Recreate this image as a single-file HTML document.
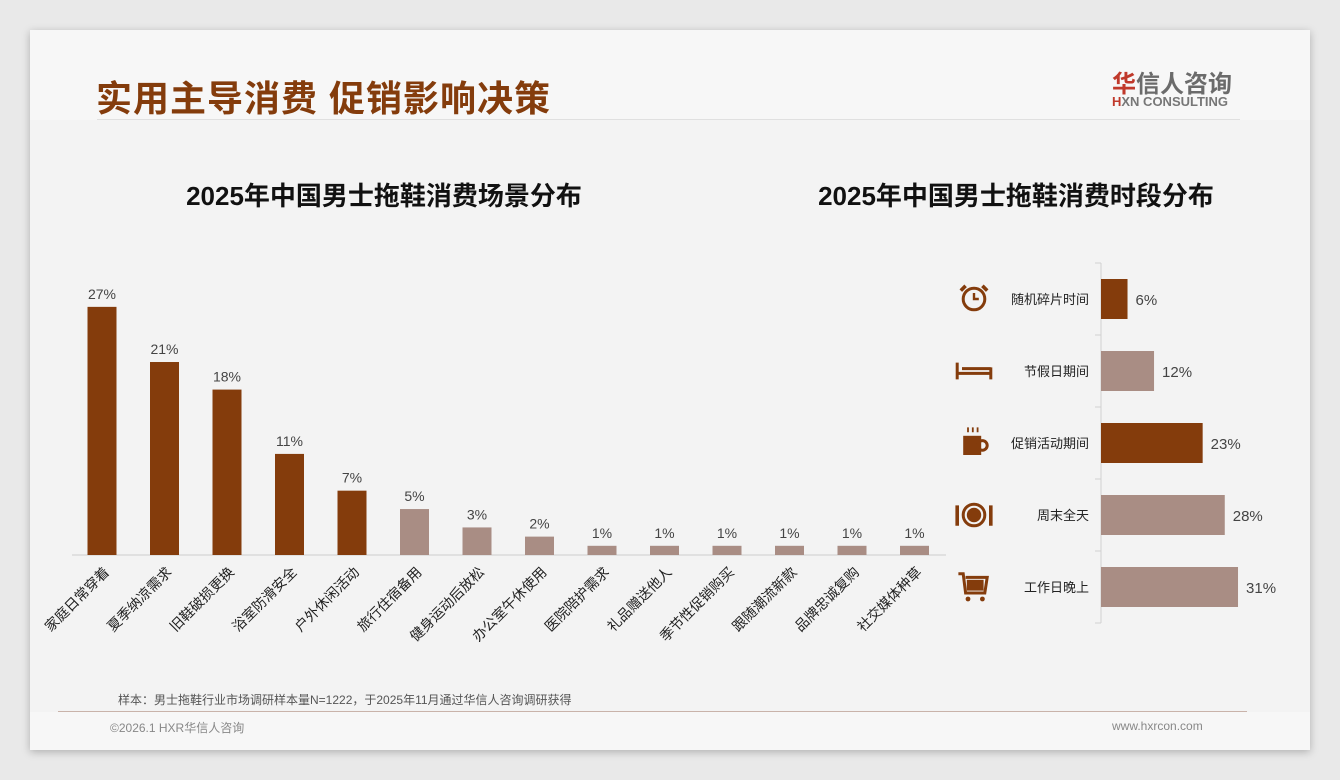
<!DOCTYPE html>
<html><head><meta charset="utf-8"><style>
body{margin:0;width:1340px;height:780px;background:#e9e9e9;font-family:"Liberation Sans","Noto Sans CJK SC",sans-serif;overflow:hidden}
#card{position:absolute;left:30px;top:30px;width:1280px;height:720px;background:#f7f7f7;box-shadow:0 2px 8px rgba(0,0,0,.25)}
#content{position:absolute;left:0;top:90px;width:1280px;height:592px;background:#f3f3f3}
.abs{position:absolute}
</style></head><body>
<div id="card">
<div id="content"></div>
<div class="abs" style="left:66px;top:40px;font-size:36px;font-weight:bold;color:#843c0c;letter-spacing:1px">实用主导消费 促销影响决策</div>
<div class="abs" style="left:67px;top:89px;width:1143px;height:1px;background:#e0e0e0"></div>
<div class="abs" style="left:1082px;top:34px;font-size:24px;font-weight:bold;color:#6b6b6b"><span style="color:#c0392b">华</span>信人咨询</div>
<div class="abs" style="left:1082px;top:64px;font-size:13px;font-weight:bold;color:#777"><span style="color:#c0392b">H</span>XN CONSULTING</div>
<div class="abs" style="left:104px;top:146px;width:500px;text-align:center;font-size:26px;font-weight:bold;color:#111">2025年中国男士拖鞋消费场景分布</div>
<div class="abs" style="left:736px;top:146px;width:500px;text-align:center;font-size:26px;font-weight:bold;color:#111">2025年中国男士拖鞋消费时段分布</div>
<div class="abs" style="left:88px;top:661px;font-size:12px;color:#555">样本：男士拖鞋行业市场调研样本量N=1222，于2025年11月通过华信人咨询调研获得</div>
<div class="abs" style="left:28px;top:681px;width:1189px;height:1px;background:#c9b3aa"></div>
<div class="abs" style="left:80px;top:689px;font-size:12px;color:#888">©2026.1 HXR华信人咨询</div>
<div class="abs" style="left:1082px;top:689px;font-size:12px;color:#888">www.hxrcon.com</div>
</div>
<svg class="abs" style="left:0;top:0" width="1340" height="780" font-family="Liberation Sans, Noto Sans CJK SC, sans-serif">
<g id="left"></g><g id="right"></g>
</svg>
<script>
const sceneCats=["家庭日常穿着","夏季纳凉需求","旧鞋破损更换","浴室防滑安全","户外休闲活动","旅行住宿备用","健身运动后放松","办公室午休使用","医院陪护需求","礼品赠送他人","季节性促销购买","跟随潮流新款","品牌忠诚复购","社交媒体种草"];
const sceneVals=[27,21,18,11,7,5,3,2,1,1,1,1,1,1];
const sceneLabels=["27%","21%","18%","11%","7%","5%","3%","2%","1%","1%","1%","1%","1%","1%"];
const timeCats=["随机碎片时间","节假日期间","促销活动期间","周末全天","工作日晚上"];
const timeVals=[6,12,23,28,31];
const timeLabels=["6%","12%","23%","28%","31%"];
const timeDark=[true,false,true,false,false];
const DARK="#843c0c",LIGHT="#a98d84",NS="http://www.w3.org/2000/svg";
function mk(p,t,a,txt){const e=document.createElementNS(NS,t);for(const k in a)e.setAttribute(k,a[k]);if(txt!=null)e.textContent=txt;p.appendChild(e);return e;}
const L=document.getElementById('left');
const base=555,yS=v=>base-v*9.19,xC=i=>102+i*62.5;
let ax=mk(L,'line',{x1:72,x2:946,y1:base,y2:base,stroke:'#ccc'});


sceneVals.forEach((v,i)=>{
 const r=mk(L,'rect',{x:xC(i)-14.5,y:yS(v),width:29,height:base-yS(v),fill:i<5?DARK:LIGHT});
 
 
 const t=mk(L,'text',{x:xC(i),y:yS(v)-8,'text-anchor':'middle','font-size':14,fill:'#444'},sceneLabels[i]);
 
 
 const c=mk(L,'text',{x:xC(i)+8,y:573,'text-anchor':'end','font-size':14,fill:'#222',transform:`rotate(-45 ${xC(i)+8} 573)`},sceneCats[i]);
 
 
});
const R=document.getElementById('right');
const ax0=1101,xs=v=>v*4.42,yc=i=>299+i*72;
let ay=mk(R,'line',{x1:ax0,x2:ax0,y1:263,y2:623,stroke:'#d0d0d0'});


for(let k=0;k<=5;k++)mk(R,'line',{x1:ax0-6,x2:ax0,y1:263+k*72,y2:263+k*72,stroke:'#d0d0d0'});
timeVals.forEach((v,i)=>{
 const r=mk(R,'rect',{x:ax0,y:yc(i)-20,width:xs(v),height:40,fill:timeDark[i]?DARK:LIGHT});
 
 
 const t=mk(R,'text',{x:ax0+xs(v)+8,y:yc(i)+6,'font-size':15,fill:'#444'},timeLabels[i]);
 
 
 const c=mk(R,'text',{x:1089,y:yc(i)+5,'text-anchor':'end','font-size':13,fill:'#222'},timeCats[i]);
 
 
 const ic=mk(R,'g',{transform:`translate(974 ${yc(i)}) scale(1.2)`});
 
 
 if(i==0){mk(ic,'circle',{r:9,fill:'none',stroke:DARK,'stroke-width':2.5});mk(ic,'path',{d:'M0-5V0H4',stroke:DARK,fill:'none','stroke-width':2});mk(ic,'path',{d:'M-11-7l4-4M11-7l-4-4',stroke:DARK,'stroke-width':3});}
 if(i==1){mk(ic,'path',{d:'M-14-7V7M14-3V7M-14 2H14M-10-2H14',stroke:DARK,'stroke-width':2.5,fill:'none'});}
 if(i==2){mk(ic,'rect',{x:-9,y:-6,width:15,height:16,fill:DARK});mk(ic,'circle',{cx:7,cy:2,r:4,fill:'none',stroke:DARK,'stroke-width':2.5});mk(ic,'path',{d:'M-5-9v-4M-1-9v-4M3-9v-4',stroke:DARK,'stroke-width':1.5});}
 if(i==3){mk(ic,'circle',{r:9,fill:'none',stroke:DARK,'stroke-width':2.5});mk(ic,'circle',{r:6,fill:DARK});mk(ic,'path',{d:'M-14-8V9M14-8V9',stroke:DARK,'stroke-width':3});}
 if(i==4){mk(ic,'path',{d:'M-13-11h4l2 16h16l2-13h-18',stroke:DARK,'stroke-width':2.5,fill:'none'});mk(ic,'rect',{x:-6,y:-6,width:14,height:9,fill:DARK});mk(ic,'circle',{cx:-5,cy:10,r:2,fill:DARK});mk(ic,'circle',{cx:7,cy:10,r:2,fill:DARK});}
});
</script>
</body></html>
